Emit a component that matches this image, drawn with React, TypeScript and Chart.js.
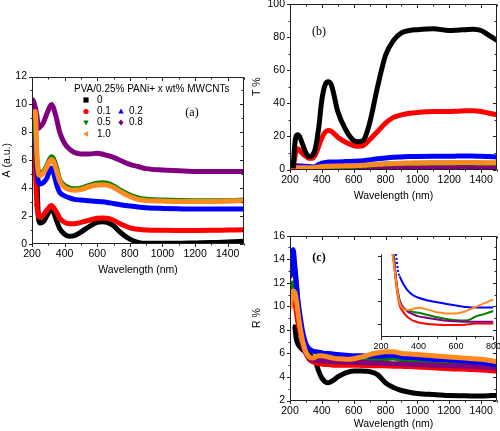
import React, { useEffect, useRef } from 'react';
import { Chart, registerables } from 'chart.js';

Chart.register(...registerables);

const SANS = '"Liberation Sans", Arial, Helvetica, sans-serif';
const SERIF = '"Liberation Serif", "Times New Roman", serif';

// ---- series meta ----
const SERIES_LABELS = ['0', '0.1', '0.2', '0.5', '0.8', '1.0'];
const SERIES_COLORS = ['#000000', '#ff0000', '#0000ff', '#008000', '#800080', '#ff8a1f'];
const SERIES_MARKERS = ['square', 'circle', 'triUp', 'triDown', 'diamond', 'triLeft'];
const SERIES_POINT_STYLES = ['rect', 'circle', 'triangle', 'triangle', 'rectRot', 'triangle'];
const SERIES_POINT_ROT = [0, 0, 0, 180, 0, -90];
const LEGEND_TITLE = 'PVA/0.25% PANi+ x wt% MWCNTs';

// ---- panel (a): absorbance ----
const A_WL = [200, 210, 220, 230, 240, 250, 270, 290, 310, 320, 330, 350, 370, 400, 430, 460, 500, 550, 600, 630, 660, 700, 750, 800, 850, 900, 1000, 1100, 1200, 1300, 1400, 1500];
const A_0 = [6.5, 6.8, 7.0, 4.7, 1.8, 1.5, 1.6, 2.0, 2.4, 2.45, 2.35, 1.7, 1.1, 0.7, 0.55, 0.6, 0.85, 1.25, 1.55, 1.6, 1.55, 1.3, 0.75, 0.35, 0.12, 0.05, 0.05, 0.05, 0.08, 0.1, 0.15, 0.2];
const A_01 = [7.0, 6.2, 5.3, 2.8, 2.0, 1.9, 2.1, 2.4, 2.7, 2.75, 2.65, 2.3, 1.85, 1.55, 1.45, 1.45, 1.55, 1.7, 1.85, 1.87, 1.85, 1.7, 1.4, 1.15, 1.05, 1.0, 0.98, 0.97, 0.97, 0.98, 1.0, 1.02];
const A_02 = [7.7, 7.9, 7.5, 5.5, 4.4, 4.3, 4.4, 4.7, 5.3, 5.45, 5.2, 4.3, 3.7, 3.45, 3.3, 3.2, 3.15, 3.1, 3.05, 3.02, 2.98, 2.9, 2.8, 2.72, 2.65, 2.6, 2.55, 2.52, 2.5, 2.5, 2.5, 2.5];
const A_05 = [8.7, 9.3, 8.4, 6.0, 5.2, 5.0, 5.2, 5.6, 6.1, 6.25, 6.15, 5.5, 4.6, 4.2, 4.0, 3.95, 4.0, 4.2, 4.35, 4.38, 4.35, 4.15, 3.8, 3.5, 3.3, 3.2, 3.15, 3.12, 3.1, 3.1, 3.1, 3.15];
const A_08 = [10.4, 10.2, 9.8, 9.2, 8.3, 8.4, 8.7, 9.3, 9.85, 10.0, 9.8, 9.0, 8.0, 7.2, 6.8, 6.55, 6.45, 6.45, 6.5, 6.45, 6.35, 6.2, 5.95, 5.7, 5.55, 5.4, 5.3, 5.25, 5.2, 5.2, 5.2, 5.2];
const A_10 = [9.0, 9.2, 9.5, 6.5, 5.0, 4.9, 5.1, 5.5, 5.95, 6.05, 5.95, 5.3, 4.5, 4.05, 3.9, 3.85, 3.9, 4.1, 4.22, 4.25, 4.22, 4.05, 3.7, 3.4, 3.2, 3.12, 3.08, 3.05, 3.05, 3.05, 3.08, 3.1];

// ---- panel (b): transmittance ----
const B_WL = [200, 220, 230, 240, 250, 260, 280, 300, 320, 340, 360, 380, 400, 420, 440, 460, 500, 550, 600, 630, 660, 700, 750, 800, 850, 900, 950, 1000, 1100, 1200, 1250, 1300, 1350, 1400, 1450, 1500];
const B_0 = [null, 1, 15, 20.5, 21, 20, 15, 10, 7.8, 8.5, 13, 25, 42, 51, 53, 51, 35, 24, 17.5, 16.8, 17.5, 28, 50, 69, 78, 82.5, 84, 84.5, 85, 84, 84.2, 84.5, 84.8, 84, 81, 78];
const B_01 = [null, 0.5, 7, 12, 12.5, 11.5, 9.5, 8, 6.8, 6.8, 9, 14, 19, 22.5, 23.5, 23, 19.5, 16.5, 14.5, 14, 14.5, 18, 23, 28, 31.5, 33, 34, 34.5, 35, 35, 35.2, 35.5, 35.5, 35, 34, 33];
const B_02 = [1.5, 1.7, 1.8, 2, 2, 2, 1.9, 1.8, 1.6, 1.5, 1.8, 3, 3.8, 4.2, 4.5, 4.5, 4.6, 4.8, 5, 5.1, 5.3, 5.8, 6.5, 7, 7.4, 7.6, 7.8, 7.9, 8, 8, 8.1, 8.2, 8.1, 8, 7.8, 7.6];
const B_05 = [0.6, 0.8, 0.9, 1, 1, 1, 1, 0.9, 0.9, 0.9, 1, 1.3, 1.5, 1.7, 1.8, 1.8, 1.9, 2.0, 2.1, 2.2, 2.3, 2.6, 3.0, 3.3, 3.5, 3.6, 3.7, 3.8, 3.9, 3.9, 4.0, 4.0, 4.0, 3.9, 3.8, 3.7];
const B_08 = [0.5, 1.2, 2, 2.2, 2.2, 2.1, 2, 2, 1.8, 1.4, 1, 0.7, 0.5, 0.4, 0.4, 0.3, 0.3, 0.3, 0.3, 0.3, 0.3, 0.4, 0.5, 0.6, 0.75, 0.9, 1.0, 1.1, 1.2, 1.3, 1.3, 1.3, 1.3, 1.3, 1.3, 1.3];
const B_10 = [0.8, 0.9, 1, 1, 1, 1, 1, 1, 1, 1, 1.2, 1.5, 1.8, 1.9, 2, 2, 2.1, 2.2, 2.3, 2.4, 2.5, 2.8, 3.1, 3.4, 3.6, 3.8, 3.9, 4, 4.1, 4.1, 4.2, 4.2, 4.2, 4.1, 4.1, 4.0];

// ---- panel (c): reflectance ----
const C_WL = [200, 210, 220, 230, 240, 250, 260, 280, 300, 320, 340, 360, 380, 400, 420, 440, 470, 500, 550, 600, 650, 700, 750, 800, 850, 900, 950, 1000, 1100, 1200, 1300, 1400, 1500];
const C_0 = [null, null, null, 8.3, 7.2, 6.8, 6.6, 6.3, 6.1, 5.9, 5.7, 5.3, 4.5, 3.9, 3.6, 3.5, 3.7, 4.0, 4.35, 4.5, 4.5, 4.45, 4.2, 3.5, 3.1, 2.85, 2.7, 2.6, 2.5, 2.42, 2.4, 2.38, 2.45];
const C_01 = [10, 10.8, 11, 10.5, 9.5, 8.6, 8.0, 6.8, 6.0, 5.5, 5.3, 5.2, 5.15, 5.1, 5.05, 5.05, 5.0, 5.0, 5.0, 5.0, 4.98, 4.95, 4.95, 4.95, 4.92, 4.9, 4.88, 4.85, 4.78, 4.7, 4.65, 4.6, 4.5];
const C_02 = [12.5, 14.2, 14.8, 13.5, 12, 10.5, 9.5, 7.8, 6.8, 6.4, 6.2, 6.15, 6.1, 6.05, 6.0, 6.0, 5.95, 5.9, 5.85, 5.8, 5.8, 5.75, 5.75, 5.8, 5.85, 5.7, 5.65, 5.6, 5.5, 5.45, 5.35, 5.25, 5.0];
const C_05 = [11, 11.8, 12, 11.5, 10.8, 9.8, 9.0, 7.2, 6.1, 5.7, 5.5, 5.45, 5.42, 5.4, 5.38, 5.35, 5.32, 5.3, 5.3, 5.3, 5.33, 5.4, 5.47, 5.55, 5.6, 5.45, 5.4, 5.35, 5.28, 5.2, 5.1, 5.0, 4.85];
const C_08 = [12.5, 13.5, 13.8, 13, 11.8, 10.2, 8.8, 7.0, 6.0, 5.6, 5.45, 5.4, 5.4, 5.4, 5.38, 5.35, 5.32, 5.3, 5.27, 5.25, 5.22, 5.2, 5.18, 5.15, 5.12, 5.1, 5.08, 5.05, 5.0, 4.95, 4.9, 4.85, 4.75];
const C_10 = [9.8, 10.8, 11.3, 11.2, 10.5, 9.5, 8.5, 7.0, 6.1, 5.7, 5.6, 5.7, 5.8, 5.8, 5.75, 5.7, 5.6, 5.55, 5.5, 5.55, 5.7, 5.9, 6.05, 6.15, 6.15, 6.0, 5.95, 5.9, 5.8, 5.7, 5.6, 5.5, 5.3];

// ---- inset of (c): zoom 200-800 nm ----
const I_WL = [260, 270, 280, 290, 300, 320, 340, 360, 380, 400, 450, 500, 550, 600, 650, 680, 700, 750, 800];
const I_01 = [8.2, 7.6, 6.8, 6.2, 5.8, 5.5, 5.3, 5.18, 5.1, 5.05, 4.98, 4.95, 4.93, 4.93, 4.95, 4.98, 5.0, 5.0, 5.0];
const I_02 = [null, null, 8.1, 7.4, 7.1, 6.75, 6.5, 6.33, 6.22, 6.15, 6.03, 5.95, 5.87, 5.8, 5.74, 5.72, 5.72, 5.72, 5.72];
const I_05 = [8.3, 7.9, 7.0, 6.4, 6.0, 5.7, 5.6, 5.55, 5.5, 5.48, 5.38, 5.28, 5.2, 5.15, 5.13, 5.2, 5.3, 5.42, 5.56];
const I_08 = [8.3, 7.8, 7.0, 6.4, 6.0, 5.7, 5.55, 5.45, 5.38, 5.32, 5.25, 5.18, 5.12, 5.1, 5.08, 5.08, 5.08, 5.08, 5.08];
const I_10 = [8.2, 7.6, 6.9, 6.3, 5.9, 5.65, 5.6, 5.62, 5.68, 5.7, 5.62, 5.5, 5.45, 5.45, 5.55, 5.65, 5.72, 5.9, 6.08];

// ---------------------------------------------------------------
type Num = number | null;

function drawMarker(ctx: CanvasRenderingContext2D, style: string, x: number, y: number, r: number, color: string) {
  ctx.save();
  ctx.fillStyle = color;
  ctx.beginPath();
  switch (style) {
    case 'square':
      ctx.rect(x - r, y - r, 2 * r, 2 * r);
      break;
    case 'circle':
      ctx.arc(x, y, r, 0, Math.PI * 2);
      break;
    case 'triUp':
      ctx.moveTo(x, y - r * 1.15); ctx.lineTo(x + r * 1.05, y + r * 0.8); ctx.lineTo(x - r * 1.05, y + r * 0.8);
      break;
    case 'triDown':
      ctx.moveTo(x, y + r * 1.15); ctx.lineTo(x + r * 1.05, y - r * 0.8); ctx.lineTo(x - r * 1.05, y - r * 0.8);
      break;
    case 'triLeft':
      ctx.moveTo(x - r * 1.15, y); ctx.lineTo(x + r * 0.8, y - r * 1.05); ctx.lineTo(x + r * 0.8, y + r * 1.05);
      break;
    case 'diamond':
      ctx.moveTo(x, y - r * 1.2); ctx.lineTo(x + r, y); ctx.lineTo(x, y + r * 1.2); ctx.lineTo(x - r, y);
      break;
  }
  ctx.closePath();
  ctx.fill();
  ctx.restore();
}

function makeFramePlugin(cfg: { full: boolean; xMinor?: number; yMinor?: number }) {
  return {
    id: 'originFrame',
    afterDatasetsDraw(chart: any) {
      const { ctx, chartArea: a, scales } = chart;
      const xs = scales.x;
      const ys = scales.y;
      const L = Math.round(a.left) + 0.5;
      const R = Math.round(a.right) - 0.5;
      const T = Math.round(a.top) + 0.5;
      const B = Math.round(a.bottom) - 0.5;
      ctx.save();
      ctx.strokeStyle = '#202020';
      ctx.lineWidth = 1;
      ctx.beginPath();
      ctx.moveTo(L, T);
      ctx.lineTo(L, B);
      ctx.lineTo(R, B);
      if (cfg.full) {
        ctx.lineTo(R, T);
        ctx.lineTo(L, T);
      }
      ctx.stroke();

      const major = 3.5;
      const minor = 2;
      const xMajor: number[] = xs.ticks.map((t: any) => t.value);
      const yMajor: number[] = ys.ticks.map((t: any) => t.value);
      const minorVals = (scale: any, step: number | undefined, majors: number[]) => {
        const out: number[] = [];
        if (!step) return out;
        const start = Math.ceil(scale.min / step) * step;
        for (let v = start; v <= scale.max + 1e-9; v += step) {
          if (!majors.some((m) => Math.abs(m - v) < 1e-6)) out.push(v);
        }
        return out;
      };
      ctx.beginPath();
      const xTick = (v: number, len: number) => {
        const px = Math.round(xs.getPixelForValue(v)) + 0.5;
        ctx.moveTo(px, B);
        ctx.lineTo(px, B + len);
        if (cfg.full) {
          ctx.moveTo(px, T);
          ctx.lineTo(px, T + len);
        }
      };
      const yTick = (v: number, len: number) => {
        const py = Math.round(ys.getPixelForValue(v)) + 0.5;
        ctx.moveTo(L - len, py);
        ctx.lineTo(L, py);
        if (cfg.full) {
          ctx.moveTo(R - len, py);
          ctx.lineTo(R, py);
        }
      };
      xMajor.forEach((v) => xTick(v, major));
      minorVals(xs, cfg.xMinor, xMajor).forEach((v) => xTick(v, minor));
      yMajor.forEach((v) => yTick(v, major));
      minorVals(ys, cfg.yMinor, yMajor).forEach((v) => yTick(v, minor));
      ctx.stroke();
      ctx.restore();
    },
  };
}

type TextItem = { text: string; dx: number; dy: number; font: string; align?: CanvasTextAlign; marker?: string; color?: string };

function makeTextPlugin(items: TextItem[]) {
  return {
    id: 'panelText',
    afterDraw(chart: any) {
      const { ctx, chartArea: a } = chart;
      ctx.save();
      ctx.textBaseline = 'middle';
      for (const it of items) {
        const x = a.left + it.dx;
        const y = a.top + it.dy;
        if (it.marker) {
          drawMarker(ctx, it.marker, x, y, 2.6, it.color || '#000');
        } else {
          ctx.font = it.font;
          ctx.fillStyle = '#000';
          ctx.textAlign = it.align || 'left';
          ctx.fillText(it.text, x, y);
        }
      }
      ctx.restore();
    },
  };
}

function makeDatasets(wl: number[], series: Num[][], orders: number[], width: number, startMarkers = 0, dashedStart?: number[]) {
  return series.map((vals, i) => ({
    label: SERIES_LABELS[i],
    data: wl.map((x, j) => ({ x, y: vals[j] })),
    borderColor: SERIES_COLORS[i],
    backgroundColor: SERIES_COLORS[i],
    borderWidth: width,
    pointRadius: (c: any) => (c.dataIndex < startMarkers ? 2.6 : 0),
    pointBorderWidth: 0,
    pointStyle: SERIES_POINT_STYLES[i],
    pointRotation: SERIES_POINT_ROT[i],
    pointHoverRadius: 0,
    cubicInterpolationMode: 'monotone',
    spanGaps: true,
    fill: false,
    order: orders[i],
    segment: dashedStart && dashedStart[i] > 0
      ? { borderDash: (c: any) => (c.p0DataIndex < dashedStart[i] ? [2, 2] : undefined) }
      : undefined,
  }));
}

type PanelCfg = {
  left: number; top: number; width: number; height: number;
  padding: { left: number; top: number; right: number; bottom: number };
  yWidth: number; xHeight: number;
  xMin: number; xMax: number; xStep: number; xMinor?: number;
  yMin: number; yMax: number; yStep: number; yMinor?: number;
  xTitle?: string; yTitle?: string; showYLabels: boolean; tickFont: number;
  full: boolean;
  datasets: any[];
  texts: TextItem[];
};

function buildConfig(p: PanelCfg): any {
  const tickFont = { family: SANS, size: p.tickFont };
  const titleFont = { family: SANS, size: 10.5 };
  return {
    type: 'line',
    data: { datasets: p.datasets },
    options: {
      responsive: false,
      animation: false,
      events: [],
      layout: { padding: p.padding },
      plugins: { legend: { display: false }, tooltip: { enabled: false }, title: { display: false } },
      scales: {
        x: {
          type: 'linear',
          min: p.xMin,
          max: p.xMax,
          ticks: {
            stepSize: p.xStep,
            includeBounds: false,
            autoSkip: false,
            maxRotation: 0,
            minRotation: 0,
            padding: 1,
            color: '#000',
            font: tickFont,
            callback: (v: any) => String(v),
          },
          grid: { display: false, drawTicks: true, tickLength: 3 },
          border: { display: false },
          title: p.xTitle
            ? { display: true, text: p.xTitle, color: '#000', font: titleFont, padding: { top: 1, bottom: 1 } }
            : { display: false },
          afterFit: (s: any) => { s.height = p.xHeight; },
        },
        y: {
          type: 'linear',
          min: p.yMin,
          max: p.yMax,
          ticks: {
            display: p.showYLabels,
            stepSize: p.yStep,
            includeBounds: false,
            padding: 2,
            color: '#000',
            font: tickFont,
            callback: (v: any) => String(v),
          },
          grid: { display: false, drawTicks: true, tickLength: 3 },
          border: { display: false },
          title: p.yTitle
            ? { display: true, text: p.yTitle, color: '#000', font: titleFont, padding: { top: 1, bottom: 1 } }
            : { display: false },
          afterFit: (s: any) => { s.width = p.yWidth; },
        },
      },
    },
    plugins: [makeFramePlugin({ full: p.full, xMinor: p.xMinor, yMinor: p.yMinor }), makeTextPlugin(p.texts)],
  };
}

function Panel({ cfg }: { cfg: PanelCfg }) {
  const ref = useRef<HTMLCanvasElement | null>(null);
  useEffect(() => {
    if (!ref.current) return;
    const chart = new Chart(ref.current, buildConfig(cfg));
    return () => chart.destroy();
  }, []);
  return (
    <canvas
      ref={ref}
      width={cfg.width}
      height={cfg.height}
      style={{ position: 'absolute', left: cfg.left, top: cfg.top, width: cfg.width, height: cfg.height }}
    />
  );
}

const LEG = `10px ${SANS}`;
const LEG2 = `10px ${SANS}`;

const panelA: PanelCfg = {
  left: 0, top: 60, width: 250, height: 240,
  padding: { left: 0, top: 16.5, right: 6, bottom: 22.7 },
  yWidth: 32, xHeight: 33.3,
  xMin: 200, xMax: 1500, xStep: 200, xMinor: 100,
  yMin: 0, yMax: 12, yStep: 2, yMinor: 1,
  xTitle: 'Wavelength (nm)', yTitle: 'A (a.u.)', showYLabels: true, tickFont: 10.5,
  full: true,
  datasets: makeDatasets(A_WL, [A_0, A_01, A_02, A_05, A_08, A_10], [6, 5, 4, 3, 2, 1], 5, 5),
  texts: [
    { text: LEGEND_TITLE, dx: 42, dy: 12.5, font: LEG },
    { text: '', dx: 54, dy: 23.5, font: '', marker: SERIES_MARKERS[0], color: SERIES_COLORS[0] },
    { text: SERIES_LABELS[0], dx: 65, dy: 23.5, font: LEG2 },
    { text: '', dx: 54, dy: 35, font: '', marker: SERIES_MARKERS[1], color: SERIES_COLORS[1] },
    { text: SERIES_LABELS[1], dx: 65, dy: 35, font: LEG2 },
    { text: '', dx: 89, dy: 35, font: '', marker: SERIES_MARKERS[2], color: SERIES_COLORS[2] },
    { text: SERIES_LABELS[2], dx: 97, dy: 35, font: LEG2 },
    { text: '', dx: 54, dy: 46, font: '', marker: SERIES_MARKERS[3], color: SERIES_COLORS[3] },
    { text: SERIES_LABELS[3], dx: 65, dy: 46, font: LEG2 },
    { text: '', dx: 89, dy: 46, font: '', marker: SERIES_MARKERS[4], color: SERIES_COLORS[4] },
    { text: SERIES_LABELS[4], dx: 97, dy: 46, font: LEG2 },
    { text: '', dx: 54, dy: 57.5, font: '', marker: SERIES_MARKERS[5], color: SERIES_COLORS[5] },
    { text: SERIES_LABELS[5], dx: 65, dy: 57.5, font: LEG2 },
    { text: '(a)', dx: 160, dy: 36.5, font: `12px ${SERIF}`, align: 'center' },
  ],
};

const panelB: PanelCfg = {
  left: 250, top: -10, width: 250, height: 225,
  padding: { left: 0, top: 14, right: 3, bottom: 11.7 },
  yWidth: 40, xHeight: 33.8,
  xMin: 200, xMax: 1500, xStep: 200, xMinor: 100,
  yMin: 0, yMax: 100, yStep: 20, yMinor: 10,
  xTitle: 'Wavelength (nm)', yTitle: 'T %', showYLabels: true, tickFont: 10.5,
  full: true,
  datasets: makeDatasets(B_WL, [B_0, B_01, B_02, B_05, B_08, B_10], [1, 2, 4, 5, 6, 3], 5),
  texts: [{ text: '(b)', dx: 29, dy: 27.7, font: `12px ${SERIF}`, align: 'center' }],
};

const panelC: PanelCfg = {
  left: 250, top: 215, width: 250, height: 217,
  padding: { left: 0, top: 20.7, right: 3, bottom: 0.7 },
  yWidth: 40, xHeight: 30.8,
  xMin: 200, xMax: 1500, xStep: 200, xMinor: 100,
  yMin: 2, yMax: 16, yStep: 2, yMinor: 1,
  xTitle: 'Wavelength (nm)', yTitle: 'R %', showYLabels: true, tickFont: 10.5,
  full: true,
  datasets: makeDatasets(C_WL, [C_0, C_01, C_02, C_05, C_08, C_10], [6, 5, 2, 4, 3, 1], 5, 4),
  texts: [{ text: '(c)', dx: 29, dy: 22.6, font: `bold 12px ${SERIF}`, align: 'center' }],
};

const panelInset: PanelCfg = {
  left: 370, top: 245, width: 132, height: 105,
  padding: { left: 0, top: 9, right: 8, bottom: 0 },
  yWidth: 11, xHeight: 13,
  xMin: 200, xMax: 800, xStep: 200, xMinor: 100,
  yMin: 4.4, yMax: 8.1, yStep: 1,
  showYLabels: false, tickFont: 9,
  full: false,
  datasets: makeDatasets(I_WL, [I_WL.map(() => null), I_01, I_02, I_05, I_08, I_10], [9, 5, 2, 4, 3, 1], 2, 0, [0, 0, 4, 0, 0, 0]),
  texts: [],
};

export default function App() {
  return (
    <div style={{ position: 'absolute', left: 0, top: 0, width: 500, height: 431, overflow: 'hidden', background: '#fff' }}>
      <Panel cfg={panelA} />
      <Panel cfg={panelB} />
      <Panel cfg={panelC} />
      <Panel cfg={panelInset} />
    </div>
  );
}
